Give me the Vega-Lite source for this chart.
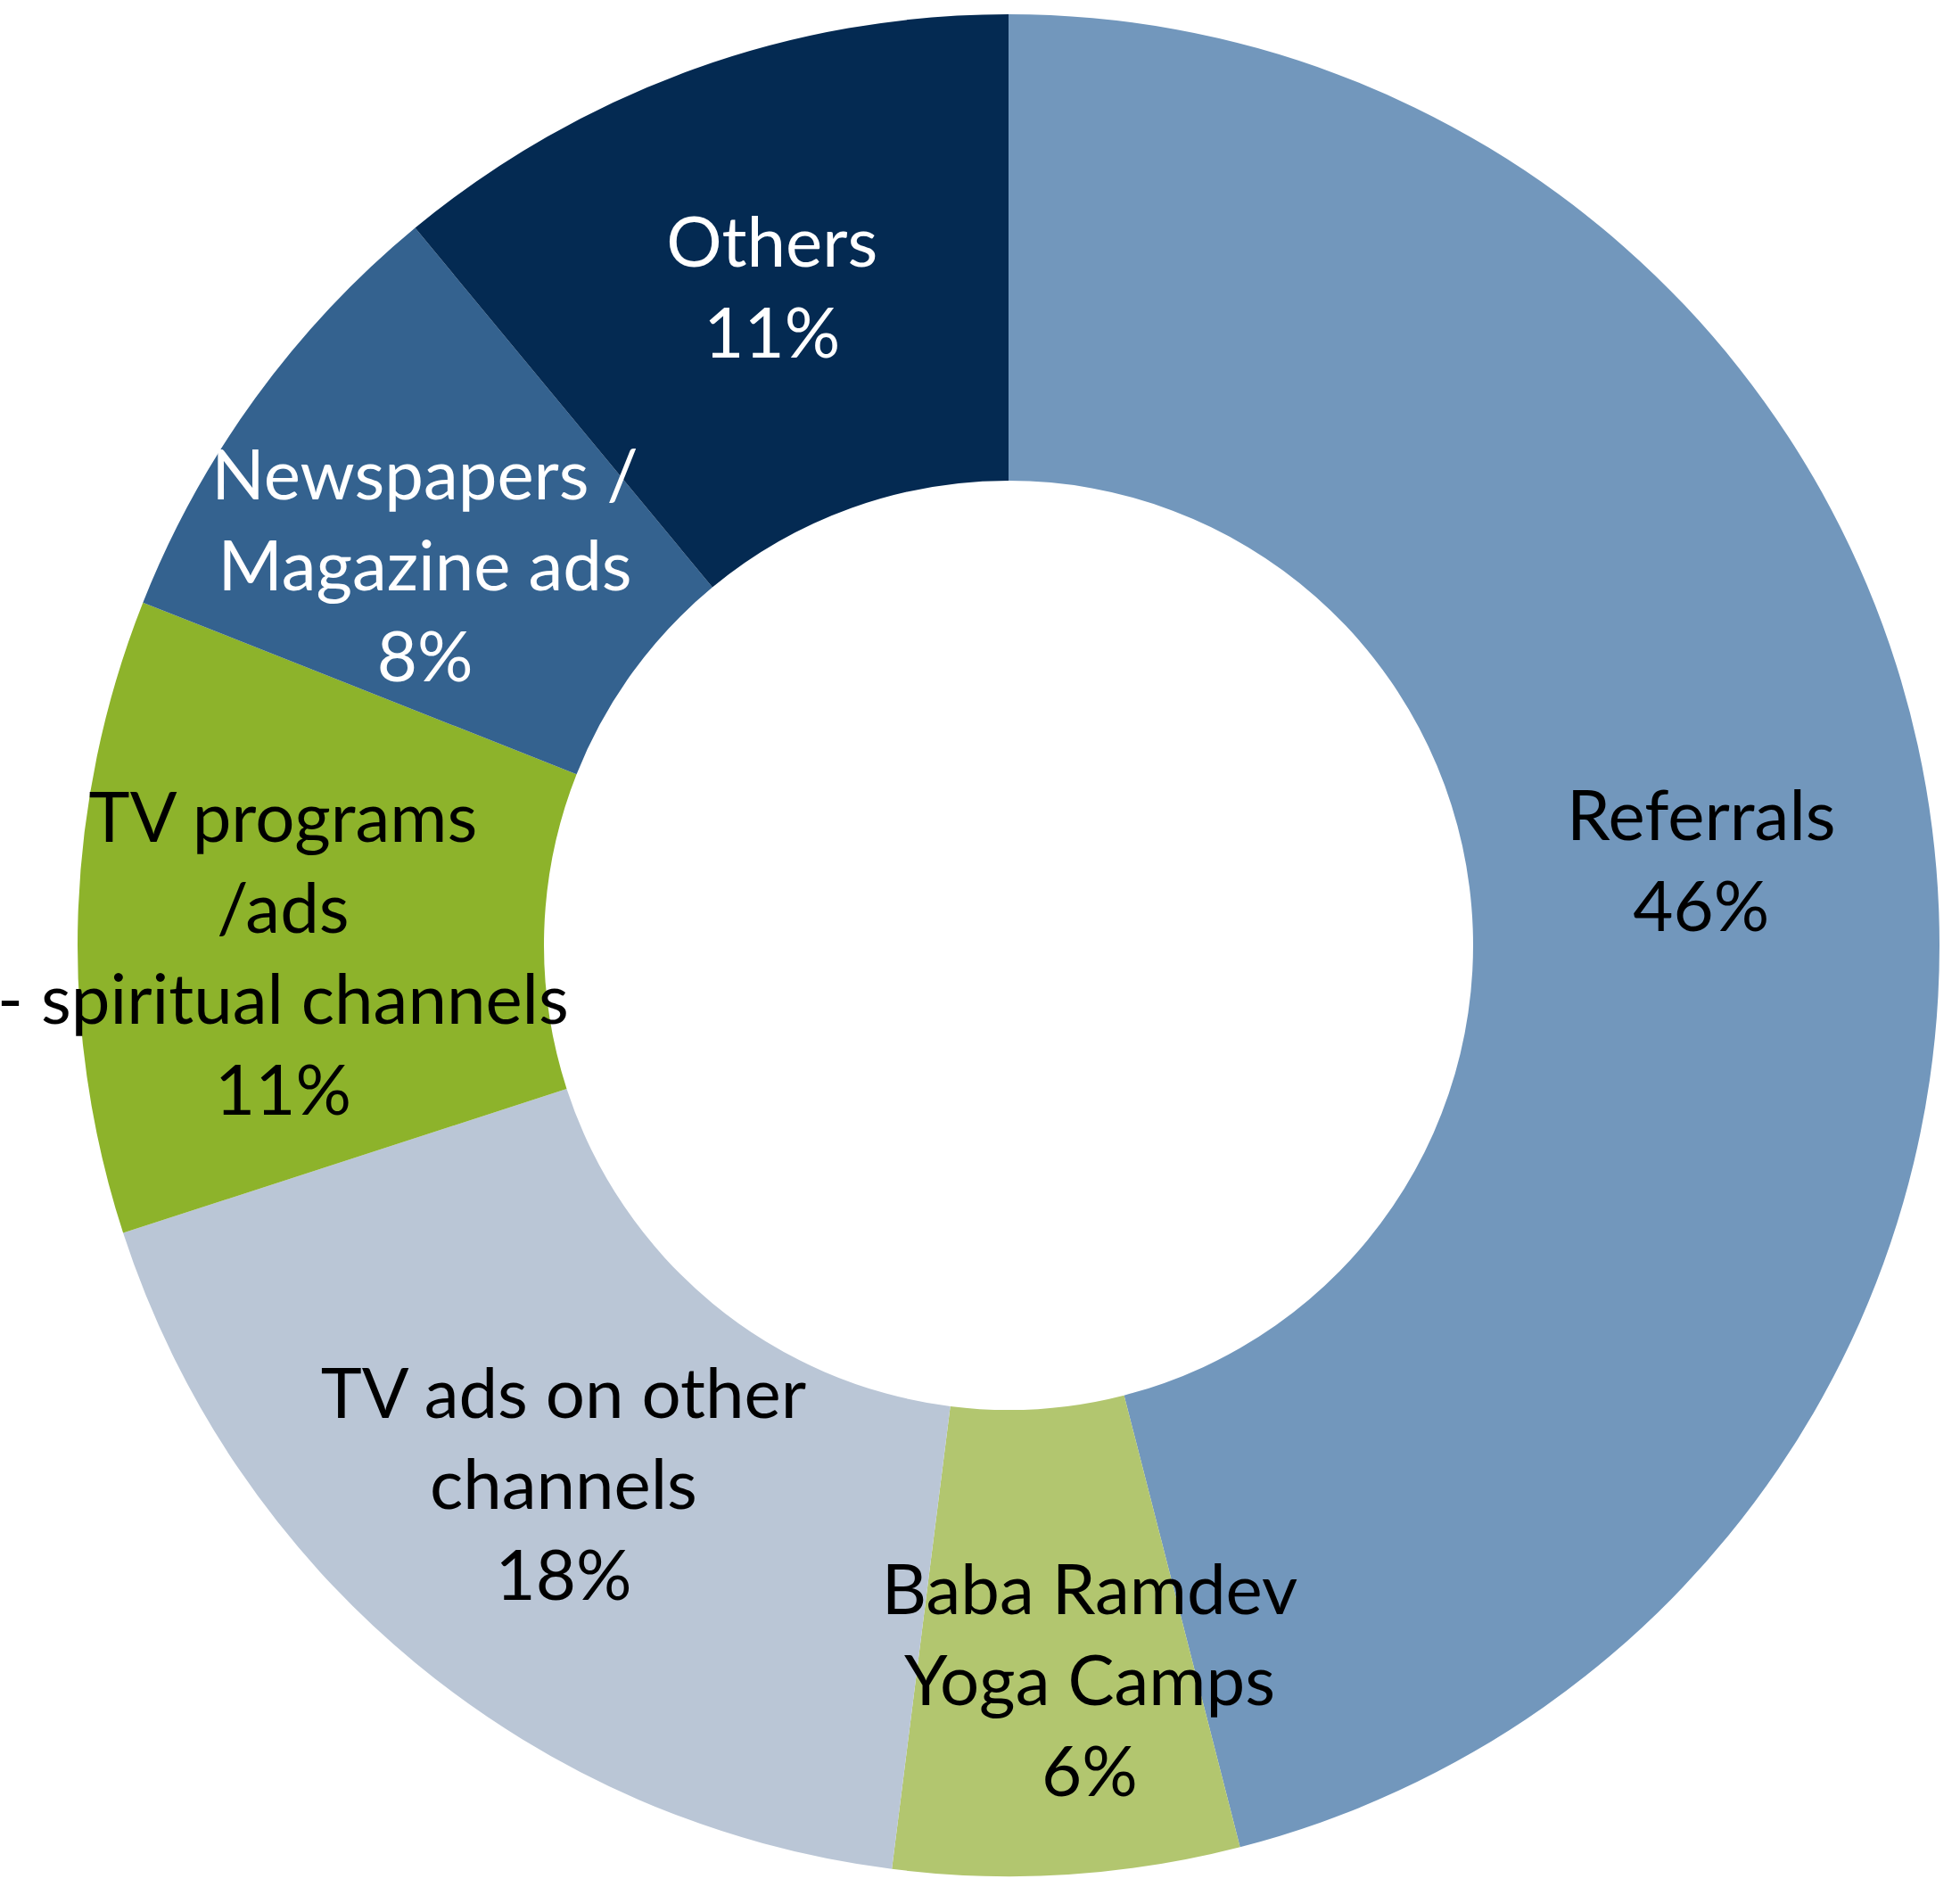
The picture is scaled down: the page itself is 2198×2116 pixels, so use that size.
{
  "$schema": "https://vega.github.io/schema/vega-lite/v6.json",
  "autosize": "none",
  "padding": {"left": 64, "top": 0, "right": 0, "bottom": 0},
  "width": 2134,
  "height": 2120,
  "background": "white",
  "view": {"stroke": null},
  "data": {
    "values": [
      {"order": 1, "category": "Referrals", "value": 46, "label": "Referrals\n46%"},
      {"order": 2, "category": "Baba Ramdev Yoga Camps", "value": 6, "label": "Baba Ramdev\nYoga Camps\n6%"},
      {"order": 3, "category": "TV ads on other channels", "value": 18, "label": "TV ads on other\nchannels\n18%"},
      {"order": 4, "category": "TV programs /ads - spiritual channels", "value": 11, "label": "TV programs\n/ads\n- spiritual channels\n11%"},
      {"order": 5, "category": "Newspapers / Magazine ads", "value": 8, "label": "Newspapers /\nMagazine ads\n8%"},
      {"order": 6, "category": "Others", "value": 11, "label": "Others\n11%"}
    ]
  },
  "encoding": {
    "theta": {"field": "value", "type": "quantitative", "stack": true, "scale": {"domain": [0, 100]}},
    "order": {"field": "order", "type": "quantitative"}
  },
  "layer": [
    {
      "mark": {"type": "arc", "outerRadius": 1044, "innerRadius": 521, "stroke": null},
      "encoding": {
        "color": {
          "field": "category",
          "type": "nominal",
          "legend": null,
          "scale": {
            "domain": ["Referrals", "Baba Ramdev Yoga Camps", "TV ads on other channels", "TV programs /ads - spiritual channels", "Newspapers / Magazine ads", "Others"],
            "range": ["#7297BC", "#B2C66F", "#BAC6D6", "#8DB32B", "#34628F", "#042A52"]
          }
        }
      }
    },
    {
      "mark": {
        "type": "text",
        "radius": {"expr": "datum.order == 2 ? 827 : datum.order == 4 ? 814 : 783"},
        "dx": {"expr": "datum.order == 2 ? 39 : datum.order == 5 ? -21 : 0"},
        "dy": {"expr": "-(length(split(datum.label, '\\n')) - 1) * 51 + (datum.order == 4 ? 40 : datum.order == 5 ? 39 : datum.order == 1 ? 8 : datum.order == 3 ? 6 : 4)"},
        "font": "Lato",
        "fontSize": 78,
        "lineHeight": 102,
        "lineBreak": "\n",
        "align": "center",
        "baseline": "middle"
      },
      "encoding": {
        "text": {"field": "label"},
        "color": {"condition": {"test": "datum.order >= 5", "value": "white"}, "value": "black"}
      }
    }
  ]
}
